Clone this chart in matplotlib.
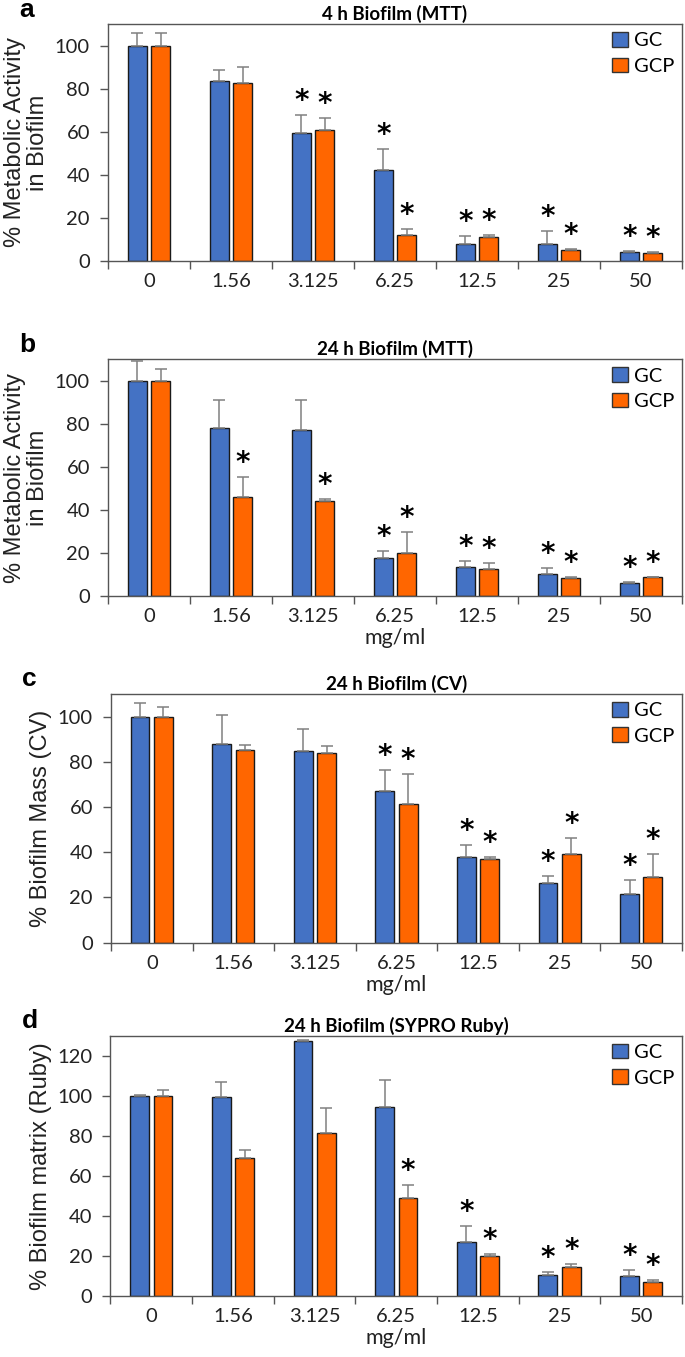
import numpy as np
import matplotlib
matplotlib.use("Agg")
import matplotlib.pyplot as plt

# data
conc = ["0", "1.56", "3.125", "6.25", "12.5", "25", "50"]

a_gc = [100, 83.5, 59.5, 42.3, 7.9, 8.1, 4.3]
a_gc_err = [5.6, 5.3, 8.1, 9.9, 3.7, 5.7, 0.5]
a_gcp = [100, 82.5, 61.0, 12.0, 11.2, 5.1, 3.9]
a_gcp_err = [5.6, 7.4, 5.2, 2.9, 0.9, 0.6, 0.2]
a_gc_sig = [0, 0, 1, 1, 1, 1, 1]
a_gcp_sig = [0, 0, 1, 1, 1, 1, 1]

b_gc = [100, 78.0, 76.9, 17.8, 13.3, 10.4, 6.0]
b_gc_err = [9.3, 12.9, 14.3, 2.9, 2.8, 2.4, 0.7]
b_gcp = [100, 45.8, 44.1, 20.0, 12.5, 8.2, 8.7]
b_gcp_err = [5.6, 9.6, 0.8, 9.9, 3.0, 0.4, 0.3]
b_gc_sig = [0, 0, 0, 1, 1, 1, 1]
b_gcp_sig = [0, 1, 1, 1, 1, 1, 1]

c_gc = [100, 87.7, 84.6, 67.2, 37.8, 26.6, 21.6]
c_gc_err = [5.9, 12.9, 9.8, 9.2, 5.6, 3.1, 6.0]
c_gcp = [100, 85.1, 83.8, 61.2, 37.1, 39.4, 29.1]
c_gcp_err = [4.1, 2.3, 3.2, 13.4, 1.0, 7.1, 10.2]
c_gc_sig = [0, 0, 0, 1, 1, 1, 1]
c_gcp_sig = [0, 0, 0, 1, 1, 1, 1]

d_gc = [100, 99.5, 127.5, 94.5, 26.8, 10.3, 9.8]
d_gc_err = [0.4, 7.2, 0.4, 13.5, 7.9, 1.7, 2.9]
d_gcp = [100, 68.8, 81.3, 48.8, 19.8, 14.5, 6.7]
d_gcp_err = [2.8, 3.9, 12.4, 6.4, 1.2, 1.3, 1.3]
d_gc_sig = [0, 0, 0, 0, 1, 1, 1]
d_gcp_sig = [0, 0, 0, 1, 1, 1, 1]

blue = "#4472C4"
orange = "#FF6600"
tick_font = "Lato"
label_font = "Liberation Sans"

fig = plt.figure(figsize=(6.85, 13.57), dpi=100)

panels = [
    ("a", "4 h Biofilm (MTT)", "% Metabolic Activity\nin Biofilm", 110, 20,
     a_gc, a_gc_err, a_gcp, a_gcp_err, a_gc_sig, a_gcp_sig, False,
     [0.1577, 0.8077, 0.8380, 0.1746]),
    ("b", "24 h Biofilm (MTT)", "% Metabolic Activity\nin Biofilm", 110, 20,
     b_gc, b_gc_err, b_gcp, b_gcp_err, b_gc_sig, b_gcp_sig, True,
     [0.1577, 0.5608, 0.8380, 0.1746]),
    ("c", "24 h Biofilm (CV)", "% Biofilm Mass (CV)", 110, 20,
     c_gc, c_gc_err, c_gcp, c_gcp_err, c_gc_sig, c_gcp_sig, True,
     [0.1620, 0.3053, 0.8336, 0.1833]),
    ("d", "24 h Biofilm (SYPRO Ruby)", "% Biofilm matrix (Ruby)", 130, 20,
     d_gc, d_gc_err, d_gcp, d_gcp_err, d_gc_sig, d_gcp_sig, True,
     [0.1613, 0.0452, 0.8343, 0.1916]),
]

x = np.arange(len(conc))
w = 0.23
off = 0.143

for letter, title, ylab, ymax, ystep, gc, gce, gcp, gcpe, gsig, psig, xlab, rect in panels:
    ax = fig.add_axes(rect)
    ekw = dict(ecolor="#808080", elinewidth=1.1, capsize=4, capthick=1.1)
    ax.bar(x - off, gc, w, color=blue, edgecolor="#1a1a1a", linewidth=1.0,
           yerr=[np.zeros(len(gc)), gce], error_kw=ekw, label="GC", zorder=2)
    ax.bar(x + off, gcp, w, color=orange, edgecolor="#1a1a1a", linewidth=1.0,
           yerr=[np.zeros(len(gcp)), gcpe], error_kw=ekw, label="GCP", zorder=2)

    # significance stars
    for i in range(len(conc)):
        if gsig[i]:
            ax.text(x[i] - off, gc[i] + gce[i], "*", ha="center",
                    va="bottom", fontsize=20, fontweight="bold", family="DejaVu Sans")
        if psig[i]:
            ax.text(x[i] + off, gcp[i] + gcpe[i], "*", ha="center",
                    va="bottom", fontsize=20, fontweight="bold", family="DejaVu Sans")

    ax.set_xlim(-0.5, len(conc) - 0.5)
    ax.set_ylim(0, ymax)
    ax.set_yticks(np.arange(0, ymax, ystep))
    ax.set_xticks(x)
    ax.set_xticklabels(conc)
    ax.set_xticks(np.arange(-0.5, len(conc), 1), minor=True)
    ax.tick_params(axis="x", which="major", length=0, pad=9, labelsize=14.5)
    ax.tick_params(axis="x", which="minor", length=6, color="#555555", width=1)
    ax.tick_params(axis="y", length=6, color="#555555", width=1, labelsize=14.5, pad=7)
    for lab in ax.get_xticklabels() + ax.get_yticklabels():
        lab.set_family(tick_font)
        lab.set_color("#222222")
    for s in ax.spines.values():
        s.set_color("#555555")
        s.set_linewidth(1.0)

    ax.set_title(title, fontsize=13.5, fontweight="bold", family=tick_font, pad=3)
    ax.set_ylabel(ylab, fontsize=17, family=label_font, color="#222222",
                  linespacing=1.05, labelpad=4)
    if xlab:
        ax.set_xlabel("mg/ml", fontsize=15.5, family=tick_font, labelpad=2,
                      color="#222222")

    leg = ax.legend(loc="upper right", frameon=False,
                    prop={"family": tick_font, "size": 14.5}, handlelength=0.75,
                    handleheight=0.75, handletextpad=0.3, labelspacing=0.4,
                    borderaxespad=0.1, borderpad=0.3)
    for h in leg.legend_handles:
        h.set_edgecolor("#333333")

    ax.text(-0.155, 1.01, letter, transform=ax.transAxes, fontsize=19,
            fontweight="bold", family="Liberation Sans", va="bottom", ha="left")

fig.savefig("out.png", dpi=100)
